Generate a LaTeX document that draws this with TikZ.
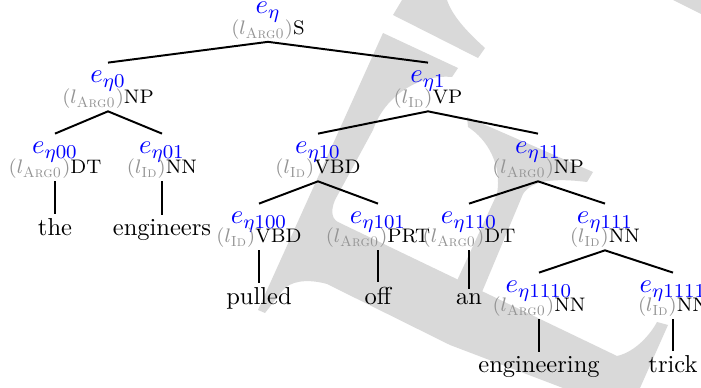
\documentclass[tikz,border=0pt]{standalone}
\usepackage{amsmath}
\newcommand\mylab[2]{\textcolor{black!42}{$(l_{\text{\textsc{#1}}})$}#2}
\begin{document}
\begin{tikzpicture}[x=0.408pt,y=-0.408pt,
  nm/.style={text=blue,anchor=base,inner xsep=1pt,inner ysep=3.4pt,font=\fontsize{11}{13}\selectfont},
  lb/.style={anchor=base,inner xsep=1pt,inner ysep=0.8pt,font=\footnotesize},
  wd/.style={anchor=base,inner xsep=1pt,inner ysep=2pt},
  br/.style={line width=0.8pt},
  wm/.style={fill=black!15}]
\useasboundingbox (0,0) rectangle (701,388);
\fill[white] (0,0) rectangle (701,388);
\clip (0,0) rectangle (701,388);
% watermark
\fill[wm] (402,0) -- (393,15) -- (478,58) -- (485,48) .. controls (465,30) and (452,15) .. (447,0) -- cycle;
\fill[wm] (383,33) -- (458,68) -- (452,77) .. controls (420,74) and (385,95) .. (373,130) -- (335,200) .. controls (330,212) and (332,220) .. (340,223) -- (617,356) .. controls (635,352) and (650,335) .. (657,322) -- (668,325) -- (640,388) -- (563,388) -- (450,345) -- (327,284) .. controls (305,278) and (290,282) .. (283,290) -- (265,313) -- (258,310) -- cycle;
\fill[wm] (467,117) -- (468,127) .. controls (488,140) and (502,165) .. (497,194) -- (455,285) -- (482,292) -- (523,194) .. controls (532,180) and (555,178) .. (587,182) -- (593,172) -- cycle;
\fill[wm] (673,0) -- (701,0) -- (701,14) -- cycle;
% tree nodes
\node[nm] (r) at (268,14) {$e_{\eta}$};
\node[lb] (rl) at (268,34.5) {\mylab{Arg0}{S}};
\node[nm] (a) at (108,83) {$e_{\eta0}$};
\node[lb] (al) at (108,104) {\mylab{Arg0}{NP}};
\node[nm] (b) at (428,83) {$e_{\eta1}$};
\node[lb] (bl) at (428,104) {\mylab{Id}{VP}};
\node[nm] (aa) at (55,154) {$e_{\eta00}$};
\node[lb] (aal) at (55,174) {\mylab{Arg0}{DT}};
\node[nm] (ab) at (162,154) {$e_{\eta01}$};
\node[lb] (abl) at (162,174) {\mylab{Id}{NN}};
\node[nm] (ba) at (318,154) {$e_{\eta10}$};
\node[lb] (bal) at (318,174) {\mylab{Id}{VBD}};
\node[nm] (bb) at (538,154) {$e_{\eta11}$};
\node[lb] (bbl) at (538,174) {\mylab{Arg0}{NP}};
\node[nm] (baa) at (259,224) {$e_{\eta100}$};
\node[lb] (baal) at (259,243) {\mylab{Id}{VBD}};
\node[nm] (bab) at (378,224) {$e_{\eta101}$};
\node[lb] (babl) at (378,243) {\mylab{Arg0}{PRT}};
\node[nm] (bba) at (469,224) {$e_{\eta110}$};
\node[lb] (bbal) at (469,243) {\mylab{Arg0}{DT}};
\node[nm] (bbb) at (605,224) {$e_{\eta111}$};
\node[lb] (bbbl) at (605,243) {\mylab{Id}{NN}};
\node[nm] (bbba) at (539,293) {$e_{\eta1110}$};
\node[lb] (bbbal) at (539,312) {\mylab{Arg0}{NN}};
\node[nm] (bbbb) at (673,293) {$e_{\eta1111}$};
\node[lb] (bbbbl) at (673,312) {\mylab{Id}{NN}};
% words
\node[wd] (w1) at (55,236) {the};
\node[wd] (w2) at (162,236) {engineers};
\node[wd] (w3) at (259,305) {pulled};
\node[wd] (w4) at (378,305) {off};
\node[wd] (w5) at (469,305) {an};
\node[wd] (w6) at (539,373) {engineering};
\node[wd] (w7) at (673,373) {trick};
% branches
\draw[br] (a.north) -- (rl.south) -- (b.north);
\draw[br] (aa.north) -- (al.south) -- (ab.north);
\draw[br] (ba.north) -- (bl.south) -- (bb.north);
\draw[br] (baa.north) -- (bal.south) -- (bab.north);
\draw[br] (bba.north) -- (bbl.south) -- (bbb.north);
\draw[br] (bbba.north) -- (bbbl.south) -- (bbbb.north);
\draw[br] (aal.south) -- (w1.north);
\draw[br] (abl.south) -- (w2.north);
\draw[br] (baal.south) -- (w3.north);
\draw[br] (babl.south) -- (w4.north);
\draw[br] (bbal.south) -- (w5.north);
\draw[br] (bbbal.south) -- (w6.north);
\draw[br] (bbbbl.south) -- (w7.north);
\end{tikzpicture}
\end{document}
